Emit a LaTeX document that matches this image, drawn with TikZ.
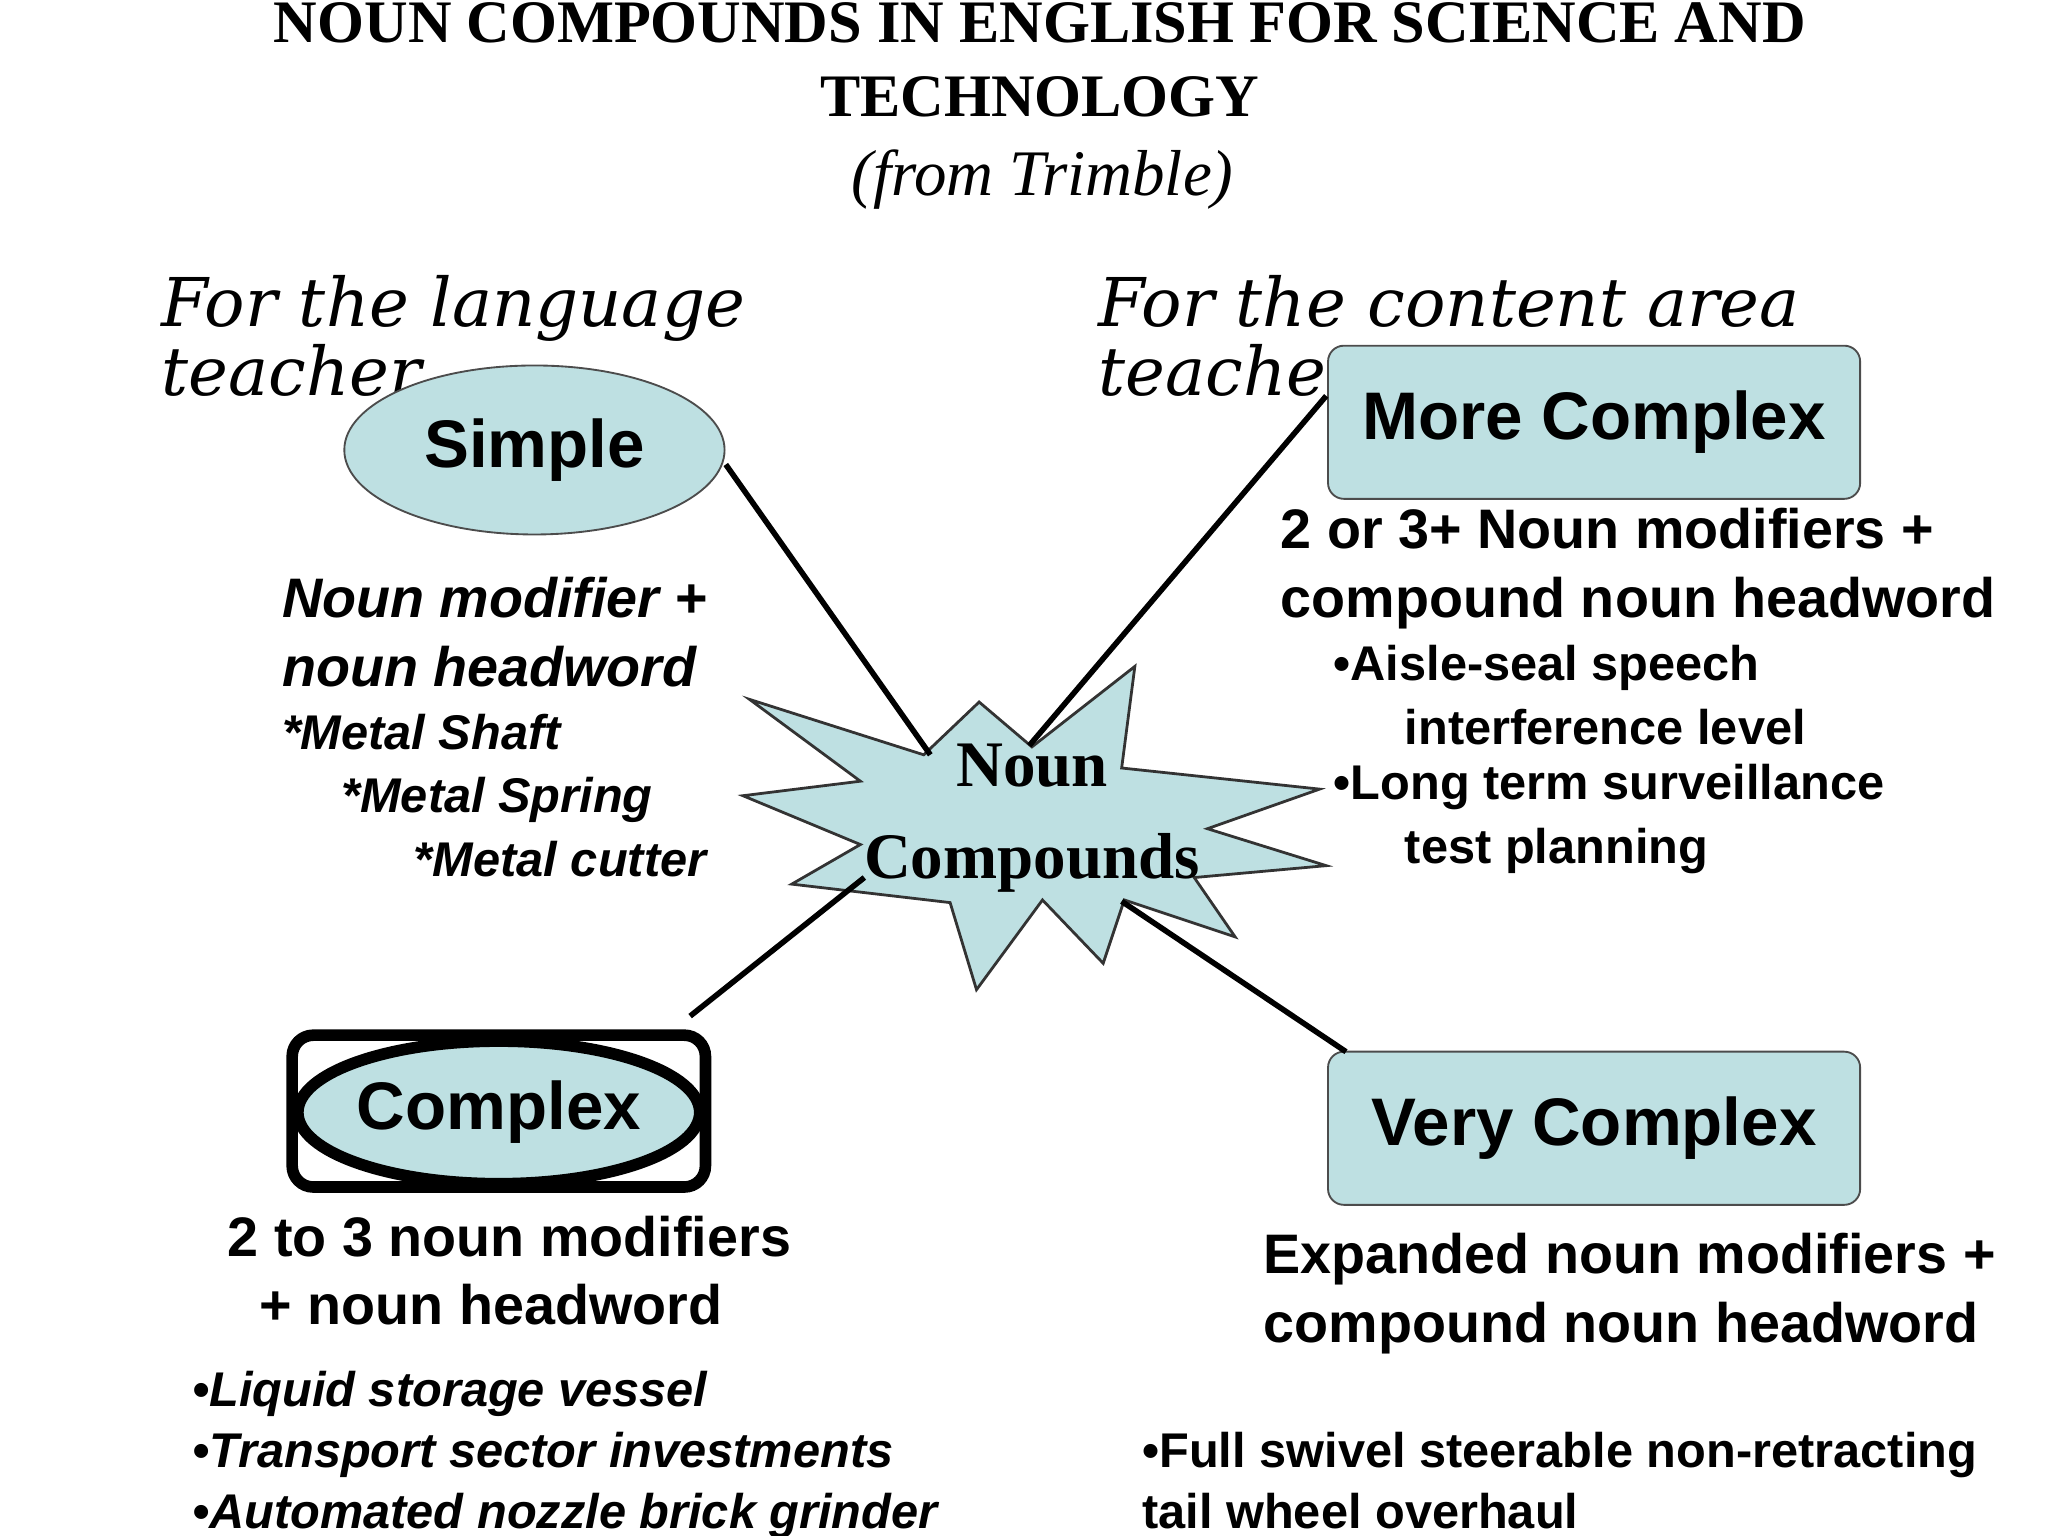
\documentclass[tikz,border=0pt]{standalone}
\usepackage{fontspec}
\setmainfont{Liberation Sans}
\newfontfamily\ttl{Liberation Serif}
\newfontfamily\scr{DejaVu Serif}
\usetikzlibrary{shapes.geometric}
\definecolor{bub}{HTML}{BEE0E2}
\begin{document}
\begin{tikzpicture}[x=0.01cm,y=-0.01cm,
  txt/.style={anchor=base west,inner sep=0,font=\bfseries\fontsize{12}{14}\selectfont},
  itx/.style={txt,font=\bfseries\itshape\fontsize{12}{14}\selectfont},
  sml/.style={txt,font=\bfseries\fontsize{10.5}{12}\selectfont},
  smi/.style={txt,font=\bfseries\itshape\fontsize{10.5}{12}\selectfont},
  lnk/.style={line width=1.2pt}]
\useasboundingbox (0,0) rectangle (1552,1164);
% title
\node[inner sep=0,anchor=base,font=\ttl\bfseries\fontsize{13}{15}\selectfont] (t1) at (788,32) {NOUN COMPOUNDS IN ENGLISH FOR SCIENCE AND};
\node[inner sep=0,anchor=base,font=\ttl\bfseries\fontsize{13}{15}\selectfont] (t2) at (788,88) {TECHNOLOGY};
\node[inner sep=0,anchor=base,font=\ttl\itshape\fontsize{14}{16}\selectfont] (t3) at (790,148) {(from Trimble)};
\node[anchor=base west,inner sep=0,font=\scr\itshape\fontsize{14.5}{15}\selectfont,align=left] (fl) at (122,300) {For the language\\teacher};
\node[anchor=base west,inner sep=0,font=\scr\itshape\fontsize{14.5}{15}\selectfont,align=left] (fc) at (832,300) {For the content area\\teacher};
% star
\filldraw[fill=bub,draw=black!80,line width=0.6pt] (568,530)--(700,572)--(742,532)--(782,566)--(860,505)--(850,582)--(1000,598)--(915,628)--(1005,656)--(905,665)--(936,710)--(852,682)--(836,730)--(790,682)--(740,750)--(720,684)--(600,670)--(652,640)--(563,603)--(652,592)--cycle;
\node[inner sep=0,font=\ttl\bfseries\fontsize{14}{20}\selectfont,align=center] (nc) at (782,620) {Noun\\Compounds};
% nodes
\node[ellipse,draw=black!70,fill=bub,minimum width=2.88cm,minimum height=1.28cm,inner sep=0,font=\bfseries\fontsize{14.5}{16}\selectfont] (simple) at (405,341) {Simple};
\node[draw=black!70,fill=bub,rounded corners=0.12cm,minimum width=4.03cm,minimum height=1.16cm,inner sep=0,font=\bfseries\fontsize{14.5}{16}\selectfont] (more) at (1208,320) {More Complex};
\node[draw=black,line width=2.5pt,rounded corners=0.16cm,minimum width=3.13cm,minimum height=1.15cm,inner sep=0] (cbox) at (378,842) {};
\node[ellipse,draw=black,line width=2.5pt,fill=bub,minimum width=2.88cm,minimum height=1.08cm,inner sep=0,font=\bfseries\fontsize{14.5}{16}\selectfont] (complex) at (378,843) {Complex};
\node[draw=black!70,fill=bub,rounded corners=0.12cm,minimum width=4.03cm,minimum height=1.16cm,inner sep=0,font=\bfseries\fontsize{14.5}{16}\selectfont] (very) at (1208,855) {Very Complex};
% connectors
\coordinate (s1) at (550,352); \coordinate (s2) at (705,572);
\coordinate (m1) at (1005,300); \coordinate (m2) at (780,565);
\coordinate (c1) at (523,770); \coordinate (c2) at (655,665);
\coordinate (v1) at (1020,797); \coordinate (v2) at (850,683);
\draw[lnk] (s1)--(s2); \draw[lnk] (m1)--(m2); \draw[lnk] (c1)--(c2); \draw[lnk] (v1)--(v2);
% texts
\node[itx] (a1) at (213,468) {Noun modifier +};
\node[itx] (a2) at (213,520) {noun headword};
\node[smi] (a3) at (213,568) {*Metal Shaft};
\node[smi] (a4) at (258,616) {*Metal Spring};
\node[smi] (a5) at (313,664) {*Metal cutter};
\node[txt] (b1) at (970,416) {2 or 3+ Noun modifiers +};
\node[txt] (b2) at (970,468) {compound noun headword};
\node[sml] (b3) at (1010,516) {•Aisle-seal speech};
\node[sml] (b4) at (1064,564) {interference level};
\node[sml] (b5) at (1010,606) {•Long term surveillance};
\node[sml] (b6) at (1064,654) {test planning};
\node[txt] (c3) at (172,952) {2 to 3 noun modifiers};
\node[txt] (c4) at (196,1004) {+ noun headword};
\node[smi] (c5) at (145,1066) {•Liquid storage vessel};
\node[smi] (c6) at (145,1112) {•Transport sector investments};
\node[smi] (c7) at (145,1158) {•Automated nozzle brick grinder};
\node[txt] (d1) at (957,965) {Expanded noun modifiers +};
\node[txt] (d2) at (957,1017) {compound noun headword};
\node[sml] (d3) at (865,1112) {•Full swivel steerable non-retracting};
\node[sml] (d4) at (865,1158) {tail wheel overhaul};
\end{tikzpicture}
\end{document}
